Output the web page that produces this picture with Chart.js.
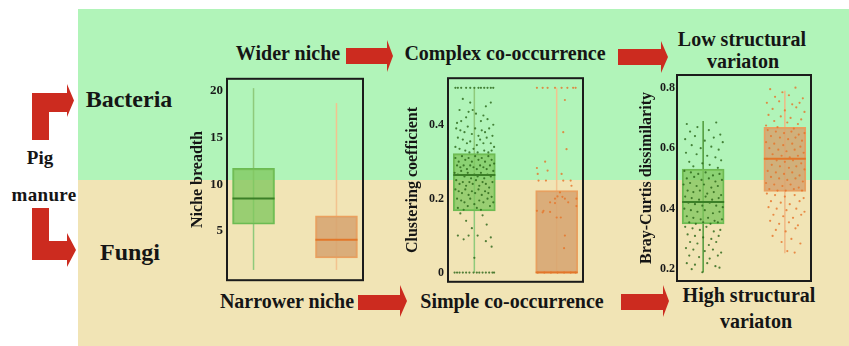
<!DOCTYPE html>
<html>
<head>
<meta charset="utf-8">
<script src="https://cdn.jsdelivr.net/npm/chart.js@4/dist/chart.umd.min.js"></script>
<style>
html,body{margin:0;padding:0;background:#fff;}
#wrap{position:relative;width:849px;height:346px;overflow:hidden;font-family:"Liberation Serif","Times New Roman",serif;font-weight:bold;color:#151515;}
.t{position:absolute;transform:translate(-50%,-50%);white-space:nowrap;line-height:1;}
canvas{position:absolute;}
svg{position:absolute;left:0;top:0;}
</style>
</head>
<body>
<div id="wrap">
<svg width="849" height="346">
  <rect x="78" y="9" width="771" height="171" fill="#b1f4b9"/>
  <rect x="78" y="180" width="771" height="166" fill="#f1e4b5"/>
  <g fill="#cc2b1f">
    <polygon points="346,48 387,48 387,40 393,56 387,72 387,64 346,64"/>
    <polygon points="618,49 661,49 661,41 668,57 661,73 661,65 618,65"/>
    <polygon points="358,295 400,295 400,285 407,301 400,317 400,310 358,310"/>
    <polygon points="621,294 663,294 663,285 669,301 663,317 663,310 621,310"/>
    <polygon points="32,140 32,93 67,93 67,84 74,100.5 67,117 67,112 49,112 49,140"/>
    <polygon points="32,208 49,208 49,241 67,241 67,233 76,250 67,267 67,260 32,260"/>
  </g>
</svg>

<div class="t" style="left:288px;top:53px;font-size:20px">Wider niche</div>
<div class="t" style="left:505px;top:53px;font-size:20px">Complex co-occurrence</div>
<div class="t" style="left:742px;top:39px;font-size:20px">Low structural</div>
<div class="t" style="left:743px;top:61px;font-size:20px">variaton</div>
<div class="t" style="left:129px;top:99px;font-size:24px">Bacteria</div>
<div class="t" style="left:130px;top:252px;font-size:24px">Fungi</div>
<div class="t" style="left:40px;top:157px;font-size:19px">Pig</div>
<div class="t" style="left:44px;top:194px;font-size:19px;letter-spacing:0.3px">manure</div>
<div class="t" style="left:287px;top:301px;font-size:20px">Narrower niche</div>
<div class="t" style="left:512px;top:301px;font-size:20px">Simple co-occurrence</div>
<div class="t" style="left:749px;top:295px;font-size:20px">High structural</div>
<div class="t" style="left:756px;top:321px;font-size:20px">variaton</div>

<canvas id="niche" width="177" height="225" style="left:188px;top:67px"></canvas>
<canvas id="clust" width="184" height="226" style="left:403px;top:67px"></canvas>
<canvas id="bray" width="178" height="226" style="left:637px;top:65px"></canvas>
</div>

<script>
// Group positions on the (hidden) x axis
const groups = ['Bacteria', 'Fungi'];
const groupPos = [1, 2];

// Five-number summaries: [min, q1, median, q3, max]
const nicheBacteria = [0.8, 5.7, 8.45, 11.7, 20.3];
const nicheFungi = [0.8, 2.1, 4.05, 6.6, 18.7];
const nicheTicks = [5, 10, 15, 20];

const ccBacteria = [0, 0.167, 0.264, 0.322, 0.5];
const ccFungi = [0, 0, 0, 0.222, 0.5];
const ccTicks = [0, 0.2, 0.4];

const bcBacteria = [0.19, 0.35, 0.422, 0.531, 0.69];
const bcFungi = [0.253, 0.457, 0.565, 0.669, 0.79];
const bcTicks = [0.2, 0.4, 0.6, 0.8];

// Individual observations [jittered x, value]
const ccBacteriaPts = [
  [0.77,0.5],[0.80,0.5],[0.84,0.5],[0.90,0.5],[0.95,0.5],[1.00,0.5],[1.05,0.5],[1.08,0.5],[1.12,0.5],[1.16,0.5],[1.20,0.5],[1.23,0.5],
  [0.86,0.47],[0.95,0.46],[1.14,0.45],[0.82,0.44],[1.02,0.43],[1.20,0.46],[0.90,0.42],[1.08,0.41],[0.79,0.405],[1.16,0.415],[0.98,0.44],[1.11,0.425],[0.84,0.41],[1.23,0.40],[0.93,0.435],
  [0.78,0.39],[0.83,0.385],[0.88,0.38],[0.92,0.395],[0.97,0.375],[1.01,0.39],[1.05,0.37],[1.09,0.385],[1.13,0.38],[1.18,0.39],[1.22,0.37],[0.80,0.365],[0.86,0.36],[0.91,0.35],[0.95,0.355],
  [1.03,0.345],[1.07,0.36],[1.11,0.35],[1.15,0.365],[1.20,0.35],[1.24,0.34],[0.77,0.34],[0.82,0.335],[0.89,0.33],[0.99,0.335],[1.04,0.325],[1.12,0.33],[1.17,0.325],[0.94,0.325],[1.21,0.33],
  [0.77,0.31],[0.81,0.30],[0.85,0.315],[0.89,0.305],[0.93,0.31],[0.97,0.30],[1.01,0.315],[1.05,0.305],[1.09,0.31],[1.13,0.30],[1.17,0.315],[1.21,0.305],[1.24,0.295],
  [0.79,0.29],[0.83,0.285],[0.87,0.29],[0.91,0.28],[0.95,0.29],[0.99,0.285],[1.03,0.28],[1.07,0.29],[1.11,0.285],[1.15,0.28],[1.19,0.29],[1.23,0.275],
  [0.76,0.27],[0.80,0.265],[0.84,0.275],[0.88,0.26],[0.92,0.27],[0.96,0.255],[1.00,0.265],[1.04,0.26],[1.08,0.27],[1.12,0.255],[1.16,0.265],[1.20,0.26],
  [0.78,0.25],[0.82,0.24],[0.86,0.245],[0.90,0.235],[0.94,0.245],[0.98,0.24],[1.02,0.25],[1.06,0.235],[1.10,0.245],[1.14,0.24],[1.18,0.23],[1.22,0.245],
  [0.77,0.225],[0.81,0.22],[0.85,0.215],[0.89,0.225],[0.93,0.21],[0.97,0.22],[1.01,0.215],[1.05,0.225],[1.09,0.21],[1.13,0.22],[1.17,0.215],[1.21,0.205],
  [0.79,0.20],[0.84,0.195],[0.88,0.19],[0.95,0.20],[1.00,0.185],[1.06,0.195],[1.11,0.19],[1.16,0.20],[1.23,0.19],
  [0.80,0.175],[0.87,0.17],[0.92,0.18],[1.03,0.175],[1.08,0.17],[1.19,0.18],
  [0.83,0.16],[1.10,0.155],[0.90,0.14],[1.15,0.13],[0.97,0.12],[0.80,0.10],[1.04,0.10],[1.20,0.095],[0.87,0.09],[1.21,0.07],[1.00,0.04],[0.93,0.10],[1.14,0.085],
  [0.76,0],[0.79,0],[0.82,0],[0.86,0],[0.90,0],[0.94,0],[0.99,0],[1.03,0],[1.06,0],[1.10,0],[1.14,0],[1.18,0],[1.22,0],[1.24,0]
];
const ccFungiPts = [
  [1.76,0.5],[1.83,0.5],[1.89,0.5],[1.98,0.5],[2.06,0.5],[2.13,0.5],[2.20,0.5],[2.23,0.5],
  [2.10,0.467],[2.08,0.38],[2.12,0.334],[1.86,0.30],[1.76,0.283],[1.89,0.276],[1.77,0.267],[2.06,0.267],
  [1.78,0.249],[1.87,0.249],[2.08,0.249],[2.17,0.249],[2.18,0.235],[2.04,0.217],[1.98,0.20],[2.01,0.206],
  [2.07,0.205],[2.10,0.20],[2.14,0.19],[1.92,0.19],[1.98,0.188],[2.24,0.20],[2.24,0.18],[1.76,0.167],
  [1.84,0.167],[1.83,0.163],[1.92,0.164],[2.00,0.149],[2.05,0.149],[2.10,0.10],[2.09,0.066],
  [1.77,0],[1.85,0],[1.93,0],[2.01,0],[2.09,0],[2.17,0],[2.23,0]
];
const bcBacteriaPts = [
  [0.80,0.68],[0.93,0.67],[1.16,0.685],[0.84,0.655],[1.07,0.66],[1.21,0.645],[0.78,0.63],[0.90,0.64],[1.02,0.625],[1.13,0.635],[1.24,0.62],[0.86,0.61],
  [0.97,0.60],[1.10,0.605],[1.19,0.595],[0.79,0.585],[0.92,0.58],[1.05,0.575],[1.15,0.57],[1.22,0.56],[0.83,0.555],[0.99,0.55],[1.08,0.545],[0.88,0.54],[1.18,0.535],
  [0.77,0.525],[0.85,0.52],[0.94,0.515],[1.03,0.52],[1.12,0.51],[1.20,0.515],[0.80,0.50],[0.89,0.505],[0.98,0.495],[1.07,0.50],[1.15,0.49],[1.23,0.495],
  [0.76,0.48],[0.84,0.485],[0.92,0.475],[1.01,0.48],[1.10,0.47],[1.18,0.475],[0.81,0.46],[0.88,0.455],[0.96,0.46],[1.05,0.45],[1.13,0.455],[1.22,0.445],
  [0.78,0.44],[0.86,0.435],[0.95,0.43],[1.03,0.44],[1.11,0.43],[1.19,0.435],[0.82,0.42],[0.90,0.415],[0.99,0.41],[1.08,0.42],[1.16,0.41],[1.24,0.405],
  [0.77,0.40],[0.85,0.395],[0.93,0.39],[1.02,0.395],[1.12,0.385],[1.20,0.39],[0.80,0.375],[0.88,0.37],[0.97,0.365],[1.06,0.37],[1.14,0.36],[1.23,0.365],
  [0.83,0.355],[0.91,0.35],[1.00,0.355],[1.09,0.35],[1.18,0.355],
  [0.78,0.34],[0.87,0.335],[0.96,0.33],[1.04,0.34],[1.13,0.325],[1.21,0.33],[0.81,0.315],[0.90,0.31],[1.00,0.305],[1.10,0.30],[1.19,0.31],
  [0.84,0.29],[0.93,0.285],[1.07,0.28],[1.16,0.29],[0.79,0.27],[0.88,0.265],[1.02,0.26],[1.12,0.265],[1.22,0.255],[0.83,0.245],[0.95,0.24],
  [1.08,0.235],[1.18,0.245],[0.80,0.22],[0.90,0.215],[1.05,0.22],[1.15,0.21],[0.86,0.20],[0.99,0.19],[1.20,0.205]
];
const bcFungiPts = [
  [1.82,0.795],[1.97,0.785],[2.13,0.80],[1.88,0.77],[2.05,0.775],[2.22,0.765],[1.78,0.75],[1.93,0.755],[2.09,0.745],[2.18,0.75],[1.85,0.73],[2.00,0.725],
  [2.14,0.735],[2.24,0.72],[1.80,0.71],[1.95,0.705],[2.07,0.70],[2.20,0.695],[1.87,0.69],[2.03,0.685],[2.16,0.68],[1.77,0.675],[1.91,0.67],[2.11,0.665],
  [1.79,0.66],[1.89,0.655],[1.99,0.65],[2.08,0.655],[2.17,0.645],[2.24,0.65],[1.83,0.64],[1.94,0.635],[2.04,0.63],[2.13,0.635],[2.21,0.625],
  [1.77,0.62],[1.87,0.615],[1.98,0.61],[2.09,0.615],[2.19,0.605],[1.81,0.60],[1.92,0.595],[2.02,0.59],[2.12,0.595],[2.23,0.585],
  [1.85,0.58],[1.96,0.575],[2.06,0.57],[2.16,0.575],[1.78,0.565],[1.90,0.56],[2.00,0.555],[2.10,0.56],[2.20,0.55],
  [1.84,0.545],[1.94,0.54],[2.05,0.535],[2.14,0.54],[2.24,0.53],[1.79,0.525],[1.89,0.52],[1.99,0.515],[2.09,0.52],[2.18,0.51],
  [1.83,0.505],[1.93,0.50],[2.03,0.495],[2.13,0.50],[2.22,0.49],[1.77,0.485],[1.87,0.48],[1.97,0.475],[2.07,0.48],[2.17,0.47],
  [1.81,0.465],[1.91,0.46],[2.01,0.46],[2.11,0.465],[2.21,0.46],
  [1.78,0.45],[1.88,0.445],[2.00,0.44],[2.12,0.445],[2.23,0.435],[1.83,0.425],[1.95,0.42],[2.06,0.415],[2.18,0.425],[1.80,0.405],[1.90,0.40],
  [2.02,0.395],[2.14,0.40],[2.24,0.39],[1.86,0.38],[1.98,0.375],[2.10,0.37],[2.20,0.38],[1.82,0.36],[1.93,0.35],[2.05,0.355],[2.16,0.345],
  [1.89,0.33],[2.01,0.325],[2.13,0.335],[1.85,0.31],[2.08,0.30],[1.96,0.29],[2.19,0.285],[2.03,0.26],[2.12,0.255]
];

const GREEN = {fill:'rgba(128,200,95,0.78)', edge:'#6cbb52', median:'#3b7f27', whisker:'#8fca7b', point:'rgba(40,100,22,0.8)'};
const ORANGE = {fill:'rgba(214,163,112,0.85)', edge:'#eba05e', median:'#e2772a', whisker:'#f2c38f', point:'rgba(230,115,40,0.8)'};
const palette = [GREEN, ORANGE];

Chart.defaults.font.family = '"Liberation Serif", "Times New Roman", serif';
Chart.defaults.color = '#1a1a1a';

function makeBoxChart(id, o) {
  const boxParts = {
    id: 'boxParts',
    beforeDatasetsDraw(chart) {
      const {ctx, scales: {x, y}} = chart;
      ctx.save();
      ctx.lineWidth = 1.5;
      o.summaries.forEach((s, i) => {
        const px = x.getPixelForValue(groupPos[i]);
        ctx.strokeStyle = (o.whiskers || [])[i] || palette[i].whisker;
        ctx.beginPath();
        ctx.moveTo(px, y.getPixelForValue(s[0]));
        ctx.lineTo(px, y.getPixelForValue(s[4]));
        ctx.stroke();
      });
      ctx.restore();
    },
    afterDatasetsDraw(chart) {
      const {ctx, scales: {y}, chartArea: a} = chart;
      const bars = chart.getDatasetMeta(0).data;
      ctx.save();
      ctx.lineWidth = 2;
      o.summaries.forEach((s, i) => {
        const b = bars[i];
        const py = y.getPixelForValue(s[2]);
        ctx.strokeStyle = palette[i].median;
        ctx.beginPath();
        ctx.moveTo(b.x - b.width / 2, py);
        ctx.lineTo(b.x + b.width / 2, py);
        ctx.stroke();
      });
      ctx.strokeStyle = '#1b1b1b';
      ctx.lineWidth = 2;
      ctx.strokeRect(a.left, a.top, a.right - a.left, a.bottom - a.top);
      ctx.restore();
    }
  };

  const datasets = [{
    type: 'bar',
    data: o.summaries.map((s, i) => ({x: groupPos[i], y: [s[1], s[3]]})),
    backgroundColor: palette.map(p => p.fill),
    borderColor: palette.map(p => p.edge),
    borderWidth: 1.5,
    borderSkipped: false,
    barThickness: 42,
    order: 2
  }];
  (o.points || []).forEach((pts, i) => {
    datasets.push({
      type: 'scatter',
      data: pts.map(p => ({x: p[0], y: p[1]})),
      pointRadius: 1.1,
      pointBorderWidth: 0,
      pointBackgroundColor: palette[i].point,
      order: 1
    });
  });

  return new Chart(document.getElementById(id), {
    type: 'bar',
    data: {datasets},
    options: {
      responsive: false,
      animation: false,
      layout: {padding: {left: 0, top: 10, right: 2, bottom: 10}},
      plugins: {legend: {display: false}, tooltip: {enabled: false}},
      scales: {
        x: {type: 'linear', min: 0.68, max: 2.32, offset: false, display: false},
        y: {
          type: 'linear', min: o.min, max: o.max,
          grid: {display: false, drawTicks: false},
          border: {display: false},
          afterBuildTicks: ax => { ax.ticks = o.ticks.map(v => ({value: v})); },
          afterFit: ax => { ax.width = o.axisWidth; },
          ticks: {padding: o.tickPad, font: {size: o.tickSize, weight: 'bold'}, color: '#1a1a1a', callback: v => String(v)},
          title: {display: true, text: o.title, padding: 0, color: '#151515', font: {size: 16, weight: 'bold'}}
        }
      }
    },
    plugins: [boxParts]
  });
}

makeBoxChart('niche', {
  summaries: [nicheBacteria, nicheFungi], ticks: nicheTicks, tickSize: 13,
  min: -0.3, max: 21.3, title: 'Niche breadth', axisWidth: 39, tickPad: 4
});
makeBoxChart('clust', {
  summaries: [ccBacteria, ccFungi], points: [ccBacteriaPts, ccFungiPts], ticks: ccTicks, tickSize: 12,
  min: -0.025, max: 0.526, title: 'Clustering coefficient', axisWidth: 45, tickPad: 4
});
makeBoxChart('bray', {
  summaries: [bcBacteria, bcFungi], points: [bcBacteriaPts, bcFungiPts], ticks: bcTicks, tickSize: 12,
  min: 0.161, max: 0.842, title: 'Bray-Curtis dissimilarity', axisWidth: 40, tickPad: 2,
  whiskers: ['#4f9a3a', '#f0b884']
});
</script>
</body>
</html>
